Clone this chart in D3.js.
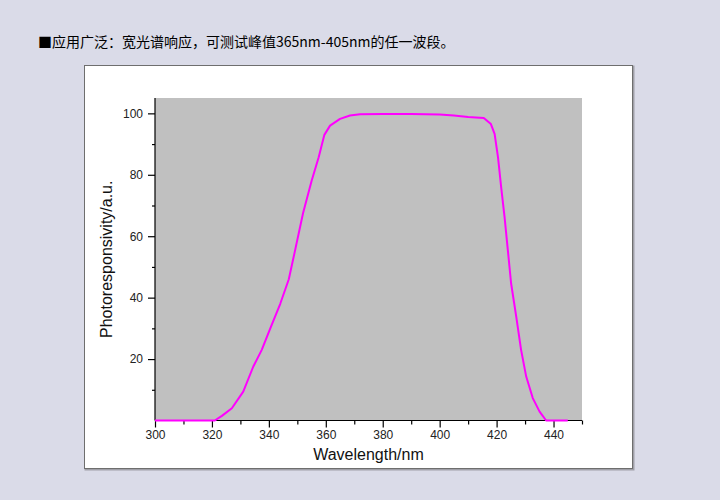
<!DOCTYPE html>
<html>
<head>
<meta charset="utf-8">
<script src="https://cdn.jsdelivr.net/npm/d3@7/dist/d3.min.js"></script>
<style>
html,body{margin:0;padding:0;background:#dadbe8;}
svg{display:block;}
</style>
</head>
<body>
<script>
const titleText = "■应用广泛：宽光谱响应，可测试峰值365nm-405nm的任一波段。";
const xLabel = "Wavelength/nm";
const yLabel = "Photoresponsivity/a.u.";
const xTicks = [300, 320, 340, 360, 380, 400, 420, 440];
const xMinorTicks = [310, 330, 350, 370, 390, 410, 430, 450];
const yTicks = [20, 40, 60, 80, 100];
const yMinorTicks = [10, 30, 50, 70, 90];
const wavelength = [300, 310, 320, 321, 323.5, 327, 331, 334.5, 337.5, 340.5, 344, 347, 349, 352, 355, 357.5, 359.5, 361.5, 365, 368.5, 372, 380, 390, 400, 405, 410, 415.5, 418, 419.3, 420.5, 421.6, 422.8, 424, 425.1, 426.9, 428.6, 430.4, 432.7, 435.1, 437.4, 440, 445];
const response = [0, 0, 0, 0, 1.5, 4, 9.4, 17.5, 23, 30, 38, 46, 54.5, 67.5, 78, 85.7, 93, 96, 98.2, 99.3, 99.7, 99.8, 99.8, 99.6, 99.3, 98.8, 98.5, 96.5, 93.3, 85.7, 76, 66.2, 55, 44.6, 33.8, 23, 14.3, 7.3, 2.9, 0, 0, 0];

const W = 720, H = 500;
const svg = d3.select("body").append("svg").attr("width", W).attr("height", H);
svg.append("rect").attr("width", W).attr("height", H).attr("fill", "#dadbe8");

svg.append("text").attr("x", 38).attr("y", 47)
  .attr("font-family", "'Noto Sans CJK SC', sans-serif").attr("font-size", 14)
  .attr("fill", "#000").text(titleText);

// outer white box
svg.append("rect").attr("x", 85.5).attr("y", 66.5).attr("width", 548).attr("height", 403)
  .attr("fill", "none").attr("stroke", "#a0a0a8").attr("stroke-width", 2);
svg.append("rect").attr("x", 84.5).attr("y", 65.5).attr("width", 548).attr("height", 403)
  .attr("fill", "#ffffff").attr("stroke", "#6e6e6e").attr("stroke-width", 1);

const x = d3.scaleLinear().domain([300, 450]).range([155, 582]);
const y = d3.scaleLinear().domain([0, 105]).range([420.5, 98]);

svg.append("rect").attr("x", x(300)).attr("y", y(105))
  .attr("width", x(450) - x(300)).attr("height", y(0) - y(105)).attr("fill", "#c0c0c0");

const font = "'Liberation Sans', Arial, sans-serif";

const xAxis = svg.append("g").attr("transform", `translate(0,${y(0)})`)
  .call(d3.axisBottom(x).tickValues(xTicks).tickSize(7).tickPadding(3).tickFormat(d3.format("d")));
const xMinor = svg.append("g").attr("transform", `translate(0,${y(0)})`)
  .call(d3.axisBottom(x).tickValues(xMinorTicks).tickSize(4).tickFormat(""));
const yAxis = svg.append("g").attr("transform", `translate(${x(300)},0)`)
  .call(d3.axisLeft(y).tickValues(yTicks).tickSize(7).tickPadding(5).tickFormat(d3.format("d")));
const yMinor = svg.append("g").attr("transform", `translate(${x(300)},0)`)
  .call(d3.axisLeft(y).tickValues(yMinorTicks).tickSize(3).tickFormat(""));
[xAxis, xMinor, yAxis, yMinor].forEach(g => {
  g.select(".domain").attr("stroke", "#000").attr("stroke-width", 1.2);
  g.selectAll(".tick line").attr("stroke", "#000").attr("stroke-width", 1.2);
  g.selectAll(".tick text").attr("font-family", font).attr("font-size", 12).attr("fill", "#222");
});
xMinor.select(".domain").remove();
yMinor.select(".domain").remove();
yAxis.select(".domain").attr("d", `M0,${y(0)}V${y(105)}`);
xAxis.select(".domain").attr("d", `M${x(300)},0H${x(450)}`);

const pts = wavelength.map((w, i) => [w, response[i]]);
svg.append("path").datum(pts)
  .attr("fill", "none").attr("stroke", "#ff00ff").attr("stroke-width", 2)
  .attr("stroke-linejoin", "round")
  .attr("d", d3.line().x(d => x(d[0])).y(d => y(d[1])));

svg.append("text").attr("x", (x(300) + x(450)) / 2).attr("y", 460)
  .attr("text-anchor", "middle").attr("font-family", font).attr("font-size", 16)
  .attr("fill", "#111").text(xLabel);
svg.append("text").attr("transform", `translate(112,${(y(0) + y(105)) / 2}) rotate(-90)`)
  .attr("text-anchor", "middle").attr("font-family", font).attr("font-size", 16)
  .attr("fill", "#111").text(yLabel);
</script>
</body>
</html>
